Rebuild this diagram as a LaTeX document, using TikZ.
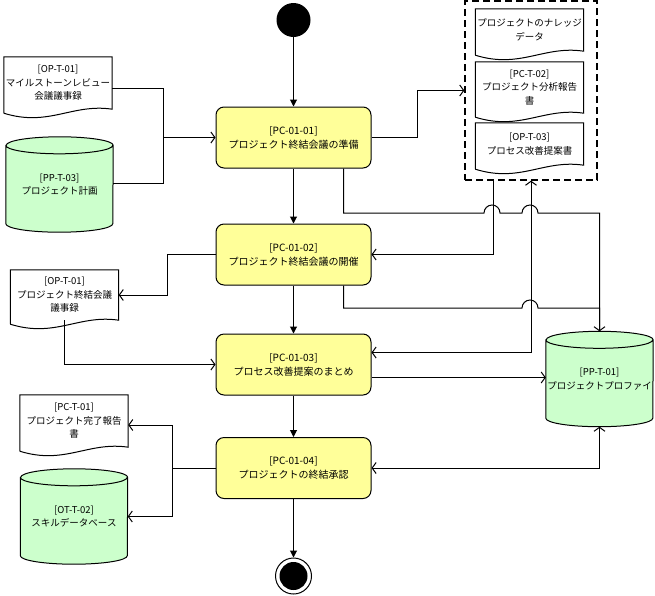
\documentclass[tikz,border=0pt]{standalone}
\usepackage{fontspec}
\setmainfont{Noto Sans CJK JP}
\usetikzlibrary{arrows.meta,backgrounds}

\definecolor{actyellow}{HTML}{FFFF99}
\definecolor{storegreen}{HTML}{CCFFCC}

\newcommand{\docwave}[1]{%
  \draw[docline] ([yshift=-4pt]#1.south west) -- (#1.north west) -- (#1.north east) -- (#1.south east)
    .. controls +(-40pt,6pt) and +(45pt,-14pt) .. ([yshift=-4pt]#1.south west);}
\newcommand{\drum}[1]{%
  \draw[docline,fill=storegreen] ([yshift=-8.5pt]#1.north west) -- ([yshift=8.5pt]#1.south west)
    arc[start angle=180,end angle=360,x radius=53.5pt,y radius=8.5pt] -- ([yshift=-8.5pt]#1.north east)
    arc[start angle=0,end angle=180,x radius=53.5pt,y radius=8.5pt] -- cycle
    ([yshift=-8.5pt]#1.north west) arc[start angle=180,end angle=360,x radius=53.5pt,y radius=8.5pt];}

\begin{document}
\begin{tikzpicture}[x=1pt,y=-1pt,
  act/.style={draw,line width=1pt,fill=actyellow,rounded corners=8pt,minimum width=155pt,minimum height=61pt,align=center,font=\fontsize{10}{14}\selectfont},
  doc/.style={minimum width=108pt,inner sep=1pt,align=center,font=\fontsize{9.5}{13.5}\selectfont},
  docline/.style={line width=1pt},
  store/.style={minimum width=107pt,minimum height=95pt,inner sep=1pt,align=center,font=\fontsize{9.5}{13.5}\selectfont},
  flow/.style={line width=1pt,-{Triangle[length=7pt,width=7pt]}},
  data/.style={line width=1pt,-{Straight Barb[length=4pt,width=11pt]}},
  both/.style={line width=1pt,{Straight Barb[length=4pt,width=11pt]}-{Straight Barb[length=4pt,width=11pt]}},
  wire/.style={line width=1pt}]
\useasboundingbox (0,0) rectangle (655,595);

\node[circle,fill=black,minimum size=34pt,inner sep=0pt] (start) at (293.5,20) {};
\node[act] (p1) at (293.5,137.5) {[PC-01-01]\\プロジェクト終結会議の準備};
\node[act] (p2) at (293.5,254.5) {[PC-01-02]\\プロジェクト終結会議の開催};
\node[act] (p3) at (293.5,364.5) {[PC-01-03]\\プロセス改善提案のまとめ};
\node[act] (p4) at (293.5,468) {[PC-01-04]\\プロジェクトの終結承認};
\node[circle,draw,line width=1pt,minimum size=36pt,inner sep=0pt] (stop) at (293.5,576) {};
\fill (stop.center) circle[radius=14pt];

\node[doc,minimum height=52pt] (minutesA) at (58,83) {[OP-T-01]\\マイルストーンレビュー\\会議議事録};
\node[store] (plan) at (59.5,184.5) {[PP-T-03]\\プロジェクト計画};
\node[doc,minimum height=50pt] (minutesB) at (64.5,295) {[OP-T-01]\\プロジェクト終結会議\\議事録};
\node[doc,minimum height=52pt] (report) at (74,421) {[PC-T-01]\\プロジェクト完了報告\\書};
\node[store] (skill) at (74,516.5) {[OT-T-02]\\スキルデータベース};

\node[draw,line width=1.3pt,dash pattern=on 7pt off 4pt,minimum width=132pt,minimum height=179pt] (pack) at (531,90.5) {};
\node[doc,minimum height=42pt] (know) at (529.5,30) {プロジェクトのナレッジ\\データ};
\node[doc,minimum height=51pt] (analysis) at (529.5,87.5) {[PC-T-02]\\プロジェクト分析報告\\書};
\node[doc,minimum height=42pt] (proposal) at (529.5,144) {[OP-T-03]\\プロセス改善提案書};
\node[store] (profile) at (599.5,379) {[PP-T-01]\\プロジェクトプロファイ};

\foreach \d in {minutesA,minutesB,report,know,analysis,proposal}
  \docwave{\d};
\begin{pgfonlayer}{background}
\foreach \s in {plan,skill,profile}
  \drum{\s};
\end{pgfonlayer}

\coordinate (joinA) at (163,137.5);
\coordinate (joinD) at (172,468);

\draw[flow] (start) -- (p1);
\draw[flow] (p1) -- (p2);
\draw[flow] (p2) -- (p3);
\draw[flow] (p3) -- (p4);
\draw[flow] (p4) -- (stop);

\draw[wire] ([yshift=-5pt]minutesA.east) -| (joinA);
\draw[wire] ([yshift=1.5pt]plan.east) -| (joinA);
\draw[data] (joinA) -- (p1.west);
\draw[data] (p1.east) -- ++(46,0) |- (pack.west);
\draw[data] ([xshift=50pt]p1.south) |- (484,213) arc[start angle=180,end angle=360,radius=8]
  -- (522,213) arc[start angle=180,end angle=360,radius=8] -| (profile.north);
\draw[data] ([xshift=-38pt]pack.south) |- (p2.east);
\draw[data] (p2.west) -- ++(-48,0) |- (minutesB.east);
\draw[wire] ([xshift=50pt]p2.south) |- (522,308) arc[start angle=180,end angle=360,radius=8] -| (profile.north);
\draw[data] (minutesB.south) |- (p3.west);
\draw[both] ([yshift=12pt]p3.east) -| (pack.south);
\draw[data] ([yshift=-13pt]p3.east) -- ([yshift=-13pt]p3.east -| profile.west);
\draw[both] (p4.east) -| (profile.south);
\draw[wire] (p4.west) -- (joinD);
\draw[data] (joinD) |- ([yshift=-4pt]report.east);
\draw[data] (joinD) |- (skill.east);
\end{tikzpicture}
\end{document}
